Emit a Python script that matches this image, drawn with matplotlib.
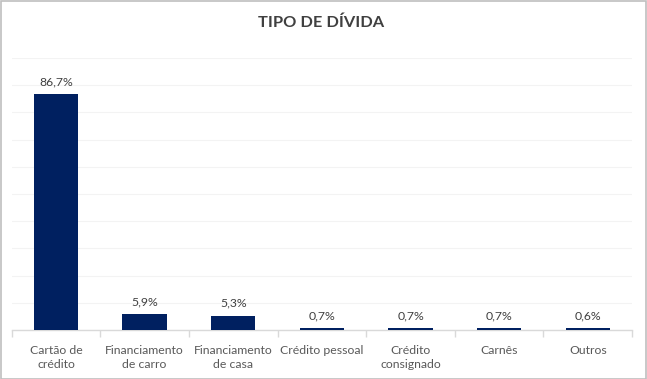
import matplotlib
matplotlib.use("Agg")
import matplotlib.pyplot as plt
from matplotlib.patches import Rectangle

categories = ["Cartão de\ncrédito", "Financiamento\nde carro", "Financiamento\nde casa",
              "Crédito pessoal", "Crédito\nconsignado", "Carnês", "Outros"]
values = [86.7, 5.9, 5.3, 0.7, 0.7, 0.7, 0.6]
value_labels = ["86,7%", "5,9%", "5,3%", "0,7%", "0,7%", "0,7%", "0,6%"]
title = "TIPO DE DÍVIDA"

plt.rcParams['font.family'] = ['Lato', 'DejaVu Sans']

fig = plt.figure(figsize=(6.47, 3.79), dpi=100)
fig.patch.set_facecolor("white")
fig.add_artist(Rectangle((0.001, 0.001), 0.997, 0.996, transform=fig.transFigure,
                         fill=False, edgecolor="#BFBFBF", linewidth=1.2))

ax = fig.add_axes([0.018, 0.1293, 0.959, 0.7177])
x = list(range(len(categories)))
ax.bar(x, values, width=0.5, color="#002060", zorder=3)
ax.set_xlim(-0.5, len(categories) - 0.5)
ax.set_ylim(0, 100)
ax.set_yticks(range(0, 101, 10))
ax.yaxis.grid(True, color="#F3F3F3", linewidth=0.8, zorder=0)
ax.tick_params(axis='y', left=False, labelleft=False)
for s in ["top", "right", "left"]:
    ax.spines[s].set_visible(False)
ax.spines["bottom"].set_color("#D9D9D9")
ax.spines["bottom"].set_linewidth(1.0)

ax.set_xticks(x)
ax.set_xticklabels(categories, fontsize=8.8, color="#595959", linespacing=1.42)
ax.tick_params(axis='x', length=0, pad=10.5)
ax.set_xticks([i - 0.5 for i in range(len(categories) + 1)], minor=True)
ax.tick_params(axis='x', which='minor', length=5, color="#D9D9D9", width=1.0)

for xi, v, lab in zip(x, values, value_labels):
    ax.annotate(lab, (xi, v), xytext=(0, 5), textcoords="offset points",
                ha="center", va="bottom", fontsize=8.8, color="#404040")

fig.text(0.497, 0.940, title, ha="center", va="center", fontsize=11.8,
         fontweight="bold", color="#404040")

fig.savefig("out.png", dpi=100)
